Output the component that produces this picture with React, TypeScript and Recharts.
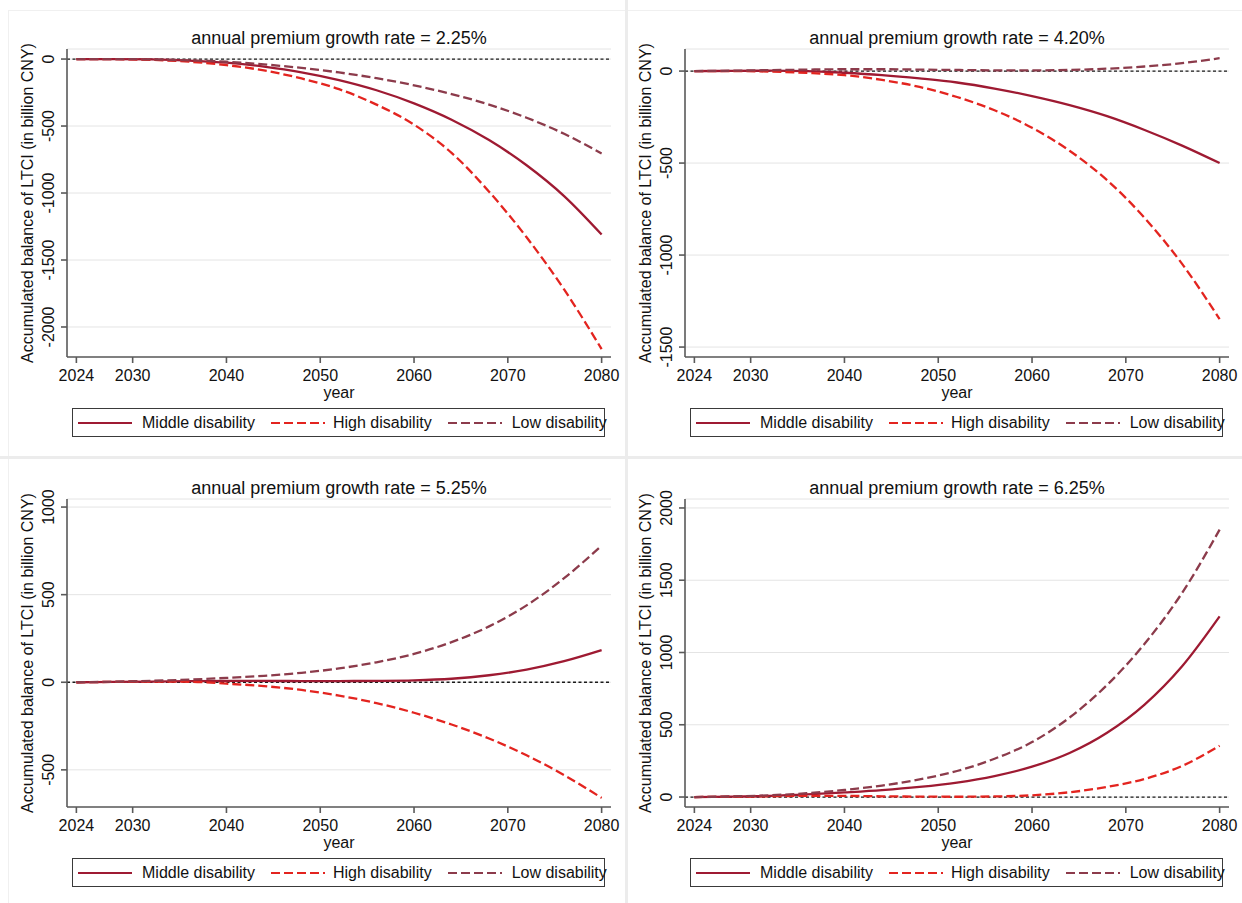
import React from 'react';
import { LineChart, Line, XAxis, YAxis, CartesianGrid, ReferenceLine, Legend } from 'recharts';

const FONT = '"Liberation Sans", Arial, Helvetica, sans-serif';

// ---- data ----
const years = [2024, 2028, 2032, 2036, 2040, 2044, 2048, 2052, 2056, 2060, 2064, 2068, 2072, 2076, 2080];
const xTicks = [2024, 2030, 2040, 2050, 2060, 2070, 2080];
const seriesNames = ['Middle disability', 'High disability', 'Low disability'];
const panelRates = ['2.25%', '4.20%', '5.25%', '6.25%'];

const r225Middle = [0, 0, -3, -12, -27, -57, -99, -157, -233, -331, -453, -605, -793, -1023, -1310];
const r225High = [0, -1, -6, -20, -45, -85, -145, -225, -340, -490, -700, -990, -1330, -1720, -2165];
const r225Low = [0, 0, -3, -10, -20, -40, -66, -100, -143, -196, -261, -340, -438, -558, -705];

const r420Middle = [0, 1, 2, 0, -9, -22, -40, -62, -95, -136, -185, -245, -320, -405, -500];
const r420High = [0, 0, -3, -10, -22, -48, -86, -141, -213, -308, -433, -593, -798, -1048, -1348];
const r420Low = [0, 2, 5, 8, 10, 10, 8, 6, 4, 4, 6, 13, 25, 43, 70];

const r525Middle = [0, 2, 4, 6, 8, 8, 7, 7, 8, 11, 20, 40, 72, 120, 183];
const r525High = [0, 2, 4, 3, -8, -22, -44, -76, -119, -174, -241, -321, -417, -530, -660];
const r525Low = [0, 3, 8, 15, 25, 37, 54, 79, 114, 162, 229, 319, 439, 594, 780];

const r625Middle = [0, 3, 8, 18, 32, 48, 70, 100, 145, 210, 305, 445, 640, 905, 1250];
const r625High = [0, 2, 5, 8, 8, 5, 3, 2, 4, 12, 33, 70, 125, 215, 355];
const r625Low = [0, 4, 12, 26, 49, 79, 122, 180, 265, 380, 550, 775, 1060, 1412, 1850];

const yTicks225 = [0, -500, -1000, -1500, -2000];
const yTicks420 = [0, -500, -1000, -1500];
const yTicks525 = [-500, 0, 500, 1000];
const yTicks625 = [0, 500, 1000, 1500, 2000];

const yDomain225 = [-2224, 75];
const yDomain420 = [-1554, 120];
const yDomain525 = [-712, 1046];
const yDomain625 = [-69, 2062];

// ---- styles ----
const SERIES = [
  { key: 'middle', color: '#9e1a32', dash: undefined as string | undefined },
  { key: 'high', color: '#e3241f', dash: '9 4' },
  { key: 'low', color: '#8c3b4b', dash: '9 4' },
];

const W = 620;
const H = 450;
const M = { top: 49, right: 9, bottom: 43, left: 10 };
const YW = 57;
const XH = 50;
const PLOT_LEFT = M.left + YW;
const PLOT_RIGHT = W - M.right;
const PLOT_TOP = M.top;
const PLOT_BOTTOM = H - M.bottom - XH;
const PLOT_CX = (PLOT_LEFT + PLOT_RIGHT) / 2;
const PLOT_CY = (PLOT_TOP + PLOT_BOTTOM) / 2;

const YTick = (props: any) => {
  const { y, payload } = props;
  return (
    <text
      transform={`translate(${PLOT_LEFT - 13},${y}) rotate(-90)`}
      textAnchor="middle"
      fontSize={16}
      fill="#111"
      fontFamily={FONT}
    >
      {payload.value}
    </text>
  );
};

const makeYLabel = (rate: string) => () => (
  <g>
    <text
      transform={`translate(33,${PLOT_CY}) rotate(-90)`}
      textAnchor="middle"
      fontSize={16}
      fill="#111"
      fontFamily={FONT}
    >
      Accumulated balance of LTCI (in billion CNY)
    </text>
    <text x={PLOT_CX} y={43.5} textAnchor="middle" fontSize={18} fill="#111" fontFamily={FONT}>
      {`annual premium growth rate = ${rate}`}
    </text>
  </g>
);

const yearLabel = () => (
  <text x={PLOT_CX} y={398} textAnchor="middle" fontSize={16} fill="#111" fontFamily={FONT}>
    year
  </text>
);

const LegendBox = () => (
  <div
    style={{
      boxSizing: 'border-box',
      width: 533,
      height: 29,
      border: '1px solid #3a3a3a',
      background: '#fff',
      display: 'flex',
      alignItems: 'center',
      paddingLeft: 5,
      fontFamily: FONT,
      fontSize: 16,
      color: '#111',
      whiteSpace: 'nowrap',
      overflow: 'visible',
    }}
  >
    {SERIES.map((s, i) => (
      <div key={s.key} style={{ display: 'flex', alignItems: 'center', marginLeft: i === 0 ? 0 : 16 }}>
        <svg width={54} height={6} style={{ display: 'block' }}>
          <line x1={0} y1={3} x2={54} y2={3} stroke={s.color} strokeWidth={2} strokeDasharray={s.dash} />
        </svg>
        <span style={{ marginLeft: i === 1 ? 8 : 10, lineHeight: '18px' }}>{seriesNames[i]}</span>
      </div>
    ))}
  </div>
);

type PanelProps = {
  rate: string;
  mid: number[];
  high: number[];
  low: number[];
  yTicks: number[];
  yDomain: number[];
  left: number;
  top: number;
};

function Panel({ rate, mid, high, low, yTicks, yDomain, left, top }: PanelProps) {
  const data = years.map((year, i) => ({ year, middle: mid[i], high: high[i], low: low[i] }));
  return (
    <div style={{ position: 'absolute', left, top, width: W, height: H }}>
      <LineChart width={W} height={H} data={data} margin={M}>
        <CartesianGrid vertical={false} stroke="#e4e4e4" strokeWidth={1} />
        <XAxis
          dataKey="year"
          type="number"
          domain={[2023, 2081]}
          ticks={xTicks}
          interval={0}
          allowDataOverflow
          height={XH}
          tickSize={6}
          tickMargin={7}
          stroke="#5a5a5a"
          strokeWidth={1.6}
          tick={{ fontSize: 16, fill: '#111', fontFamily: FONT }}
          label={yearLabel}
        />
        <YAxis
          type="number"
          domain={yDomain}
          ticks={yTicks}
          interval={0}
          allowDataOverflow
          width={YW}
          tickSize={6}
          tickMargin={2}
          stroke="#5a5a5a"
          strokeWidth={1.6}
          tick={<YTick />}
          label={makeYLabel(rate)}
        />
        <ReferenceLine y={0} stroke="#1a1a1a" strokeWidth={1.3} strokeDasharray="3 2.5" />
        {SERIES.map((s) => (
          <Line
            key={s.key}
            dataKey={s.key}
            name={s.key}
            type="monotone"
            stroke={s.color}
            strokeWidth={2.3}
            strokeDasharray={s.dash}
            dot={false}
            activeDot={false}
            isAnimationActive={false}
          />
        ))}
        <Legend
          layout="horizontal"
          verticalAlign="middle"
          align="center"
          wrapperStyle={{ top: 408, left: 72, width: 533, height: 29 }}
          content={LegendBox}
        />
      </LineChart>
    </div>
  );
}

export default function App() {
  return (
    <div
      style={{
        position: 'absolute',
        left: 0,
        top: 0,
        width: 1242,
        height: 903,
        background: '#fff',
        overflow: 'hidden',
      }}
    >
      {/* panel frames */}
      <div style={{ position: 'absolute', left: 8, top: 10, width: 1234, height: 1, background: '#f0f0f0' }} />
      <div style={{ position: 'absolute', left: 8, top: 10, width: 1, height: 893, background: '#f0f0f0' }} />
      <div style={{ position: 'absolute', left: 625, top: 0, width: 3, height: 903, background: '#ececec' }} />
      <div style={{ position: 'absolute', left: 0, top: 456, width: 1242, height: 3, background: '#ececec' }} />

      <Panel rate={panelRates[0]} mid={r225Middle} high={r225High} low={r225Low} yTicks={yTicks225} yDomain={yDomain225} left={0} top={0} />
      <Panel rate={panelRates[1]} mid={r420Middle} high={r420High} low={r420Low} yTicks={yTicks420} yDomain={yDomain420} left={618} top={0} />
      <Panel rate={panelRates[2]} mid={r525Middle} high={r525High} low={r525Low} yTicks={yTicks525} yDomain={yDomain525} left={0} top={450} />
      <Panel rate={panelRates[3]} mid={r625Middle} high={r625High} low={r625Low} yTicks={yTicks625} yDomain={yDomain625} left={618} top={450} />
    </div>
  );
}
